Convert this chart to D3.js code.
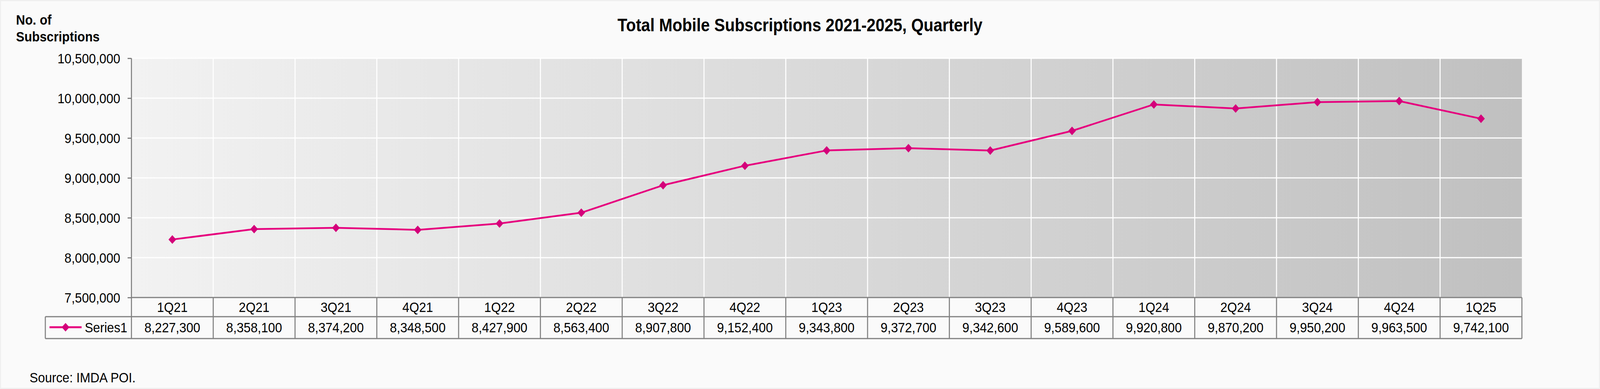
<!DOCTYPE html>
<meta charset="utf-8">
<body style="margin:0;background:#fafafa;overflow:hidden">
<script src="https://d3js.org/d3.v7.min.js" charset="utf-8"></script>
<style type="text/css">
  text {
    font-family: "Liberation Sans", Arial, sans-serif;
    fill: #000;
  }
  .title {
    font-size: 46px;
    font-weight: bold;
  }
  .ylabel {
    font-size: 36px;
    font-weight: bold;
  }
  .cell, .source, .axis text {
    font-size: 36px;
  }
</style>
<script>
// chart is laid out in the reference's 4589x995 units and stretched to the window
var width = 4589;
var height = 995;

var quarters = ["1Q21", "2Q21", "3Q21", "4Q21", "1Q22", "2Q22", "3Q22", "4Q22",
                "1Q23", "2Q23", "3Q23", "4Q23", "1Q24", "2Q24", "3Q24", "4Q24", "1Q25"];
var subscriptions = [8227300, 8358100, 8374200, 8348500, 8427900, 8563400, 8907800, 9152400,
                     9343800, 9372700, 9342600, 9589600, 9920800, 9870200, 9950200, 9963500, 9742100];
var yTicks = [7500000, 8000000, 8500000, 9000000, 9500000, 10000000, 10500000];
var seriesName = "Series1";

var plotLeft = 377, plotRight = 4365, plotTop = 149, plotBottom = 761;
var rowMid = 810, rowBottom = 866, legendLeft = 130;
var gray = "#808080";

var svg = d3.select("body")
            .append("svg")
            .attr("viewBox", "0 0 " + width + " " + height)
            .attr("preserveAspectRatio", "none")
            .style("width", "100vw")
            .style("height", "100vh")
            .style("display", "block");

// page background + thin frame
svg.append("rect")
    .attr("x", 1.5).attr("y", 1.5)
    .attr("width", width - 3).attr("height", height - 3)
    .attr("fill", "#fafafa")
    .attr("stroke", "#efefef")
    .attr("stroke-width", 3);

var xScale = d3.scaleBand()
               .domain(quarters)
               .range([plotLeft, plotRight])
               .padding(0);

var yScale = d3.scaleLinear()
               .domain([d3.min(yTicks), d3.max(yTicks)])
               .range([plotBottom, plotTop]);

var grad = svg.append("defs").append("linearGradient")
    .attr("id", "plotbg")
    .attr("x1", "0%").attr("y1", "0%")
    .attr("x2", "100%").attr("y2", "0%");
grad.append("stop").attr("offset", "0%").attr("stop-color", "#f2f2f2");
grad.append("stop").attr("offset", "100%").attr("stop-color", "#c0c0c0");

svg.append("rect")
    .attr("x", plotLeft)
    .attr("y", plotTop)
    .attr("width", plotRight - plotLeft)
    .attr("height", plotBottom - plotTop)
    .attr("fill", "url(#plotbg)");

// white gridlines
svg.append("g")
    .selectAll("line")
    .data(yTicks.slice(1))
    .enter()
    .append("line")
    .attr("x1", plotLeft).attr("x2", plotRight)
    .attr("y1", function(d) { return yScale(d); })
    .attr("y2", function(d) { return yScale(d); })
    .attr("stroke", "#fff")
    .attr("stroke-width", 3);

svg.append("g")
    .selectAll("line")
    .data(quarters.slice(1))
    .enter()
    .append("line")
    .attr("x1", function(d) { return xScale(d); })
    .attr("x2", function(d) { return xScale(d); })
    .attr("y1", plotTop).attr("y2", plotBottom)
    .attr("stroke", "#fff")
    .attr("stroke-width", 3);

// y axis
var yAxis = d3.axisLeft(yScale)
              .tickValues(yTicks)
              .tickSize(11)
              .tickSizeOuter(0)
              .tickPadding(21)
              .tickFormat(d3.format(","));

var axisG = svg.append("g")
    .attr("class", "axis")
    .attr("transform", "translate(" + plotLeft + ",0)")
    .call(yAxis);
axisG.select(".domain").remove();
axisG.selectAll("line").attr("stroke", gray).attr("stroke-width", 3);
axisG.selectAll("text").attr("dy", "0.36em").attr("fill", "#000").style("font-family", "\"Liberation Sans\", Arial, sans-serif");

// data table borders
var table = svg.append("g")
    .attr("stroke", gray)
    .attr("stroke-width", 3);

table.append("line").attr("x1", plotLeft).attr("x2", plotRight).attr("y1", plotBottom).attr("y2", plotBottom);
table.append("line").attr("x1", legendLeft).attr("x2", plotRight).attr("y1", rowMid).attr("y2", rowMid);
table.append("line").attr("x1", legendLeft).attr("x2", plotRight).attr("y1", rowBottom).attr("y2", rowBottom);
table.append("line").attr("x1", legendLeft).attr("x2", legendLeft).attr("y1", rowMid).attr("y2", rowBottom);
table.append("line").attr("x1", plotLeft).attr("x2", plotLeft).attr("y1", plotTop).attr("y2", rowBottom);

table.selectAll(".sep")
    .data(quarters.slice(1).concat([null]))
    .enter()
    .append("line")
    .attr("class", "sep")
    .attr("x1", function(d) { return d ? xScale(d) : plotRight; })
    .attr("x2", function(d) { return d ? xScale(d) : plotRight; })
    .attr("y1", plotBottom).attr("y2", rowBottom);

var half = xScale.bandwidth() / 2;

svg.append("g")
    .selectAll("text")
    .data(quarters)
    .enter()
    .append("text")
    .attr("class", "cell")
    .attr("x", function(d) { return xScale(d) + half; })
    .attr("y", 798)
    .attr("text-anchor", "middle")
    .text(function(d) { return d; });

svg.append("g")
    .selectAll("text")
    .data(subscriptions)
    .enter()
    .append("text")
    .attr("class", "cell")
    .attr("x", function(d, i) { return xScale(quarters[i]) + half; })
    .attr("y", 850)
    .attr("text-anchor", "middle")
    .text(function(d) { return d3.format(",")(d); });

// legend key
var lineColor = "#e6007e";
var markColor = "#d4007a";
var diamond = d3.symbol().type(d3.symbolDiamond2).size(310);

svg.append("line")
    .attr("x1", 142).attr("x2", 234)
    .attr("y1", 837).attr("y2", 837)
    .attr("stroke", lineColor)
    .attr("stroke-width", 5);
svg.append("path")
    .attr("d", diamond)
    .attr("transform", "translate(188,837)")
    .attr("fill", markColor);
svg.append("text")
    .attr("class", "cell")
    .attr("x", 243)
    .attr("y", 850)
    .text(seriesName);

// series line + markers
var line = d3.line()
    .x(function(d, i) { return xScale(quarters[i]) + half; })
    .y(function(d) { return yScale(d); });

svg.append("path")
    .datum(subscriptions)
    .attr("d", line)
    .attr("fill", "none")
    .attr("stroke", lineColor)
    .attr("stroke-width", 4.5)
    .attr("stroke-linejoin", "round");

svg.append("g")
    .selectAll("path")
    .data(subscriptions)
    .enter()
    .append("path")
    .attr("d", diamond)
    .attr("transform", function(d, i) {
      return "translate(" + (xScale(quarters[i]) + half) + "," + yScale(d) + ")";
    })
    .attr("fill", markColor);

// titles
svg.append("text")
    .attr("class", "title")
    .attr("x", width / 2)
    .attr("y", 80)
    .attr("text-anchor", "middle")
    .text("Total Mobile Subscriptions 2021-2025, Quarterly");

svg.append("text")
    .attr("class", "ylabel")
    .attr("x", 46)
    .attr("y", 63)
    .text("No. of");
svg.append("text")
    .attr("class", "ylabel")
    .attr("x", 46)
    .attr("y", 106)
    .text("Subscriptions");

svg.append("text")
    .attr("class", "source")
    .attr("x", 85)
    .attr("y", 978)
    .text("Source: IMDA POI.");
</script>
</body>
</html>
